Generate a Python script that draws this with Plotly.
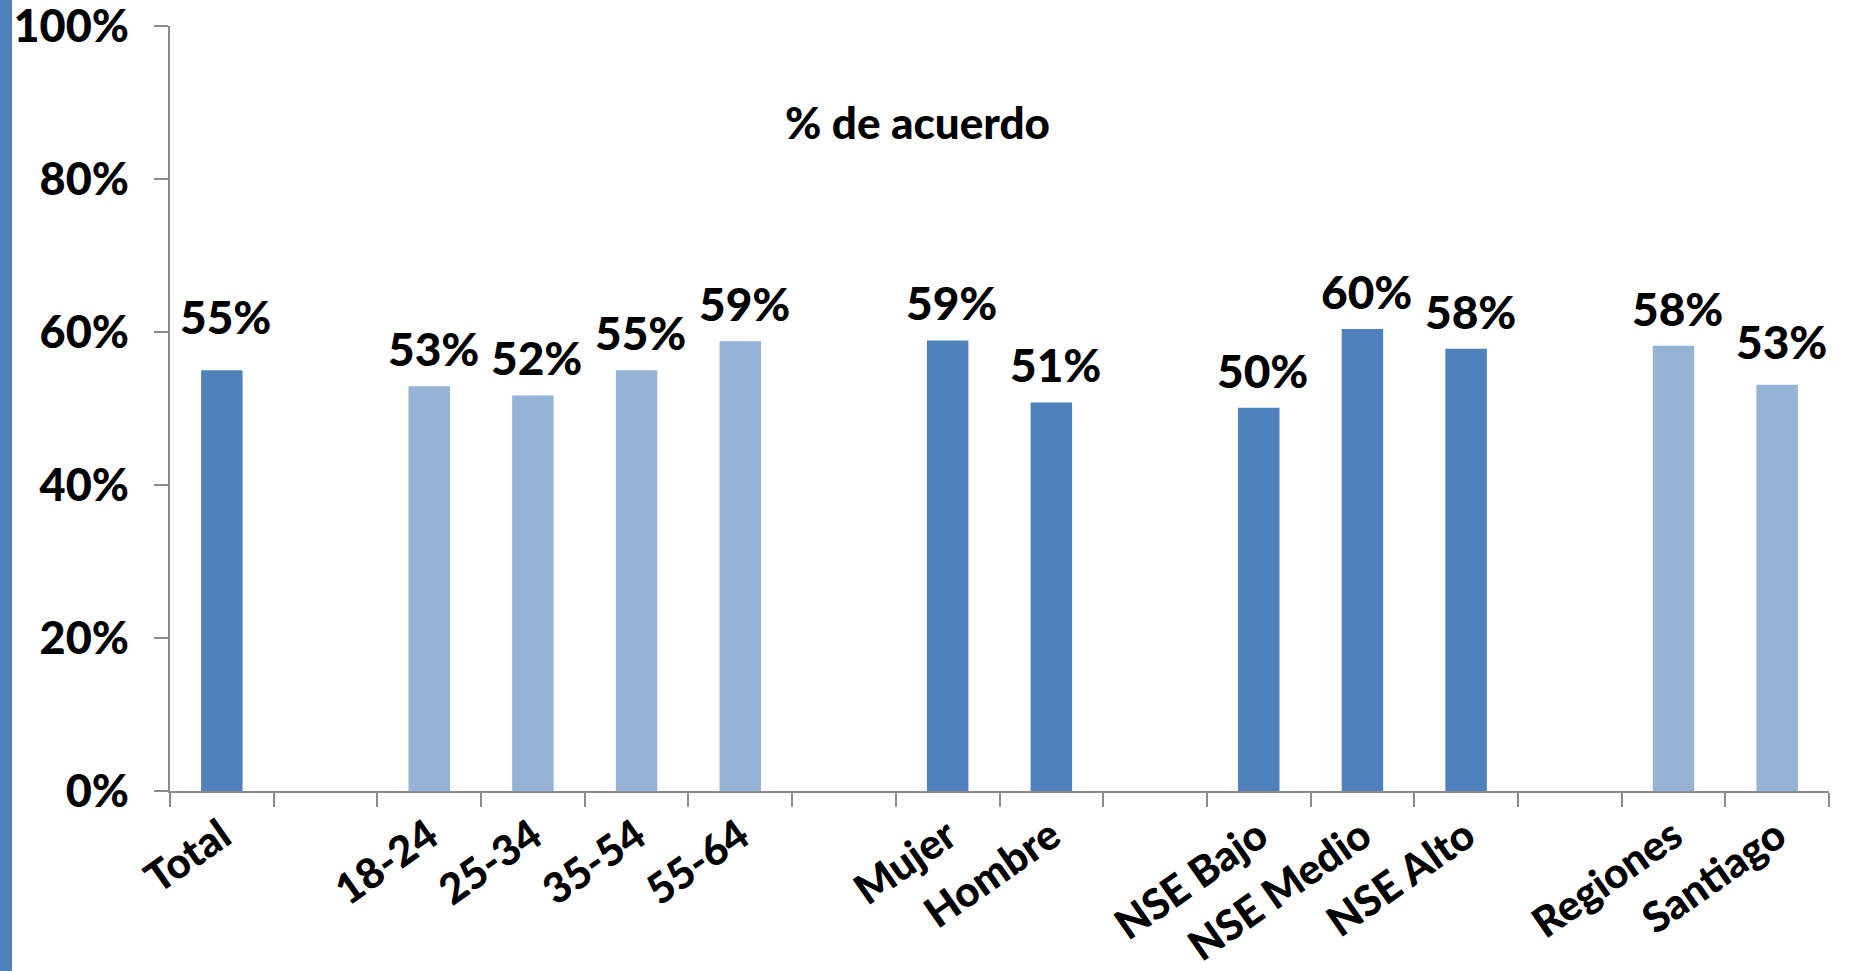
import plotly.graph_objects as go

# ---- data ----
categories = ["Total", " ", "18-24", "25-34", "35-54", "55-64", "  ",
              "Mujer", "Hombre", "   ", "NSE Bajo", "NSE Medio", "NSE Alto",
              "    ", "Regiones", "Santiago"]
values = [55.0, None, 52.9, 51.7, 55.0, 58.8, None,
          58.9, 50.8, None, 50.1, 60.4, 57.8,
          None, 58.2, 53.1]
labels = ["55%", "", "53%", "52%", "55%", "59%", "",
          "59%", "51%", "", "50%", "60%", "58%",
          "", "58%", "53%"]
groups = ["dark", None, "light", "light", "light", "light", None,
          "dark", "dark", None, "dark", "dark", "dark",
          None, "light", "light"]
title_text = "% de acuerdo"
y_ticks = [0, 20, 40, 60, 80, 100]
y_ticktext = ["0%", "20%", "40%", "60%", "80%", "100%"]

DARK = "#4F81BD"
LIGHT = "#95B3D7"
FONT = "Lato"
W = 900

colors = [DARK if g == "dark" else LIGHT for g in groups]

# plot area spans x 170..1829, y 26..791 of the 1854x971 page
ML, MT = 170, 26
PW, PH = 1659, 765

fig = go.Figure()
fig.add_trace(go.Bar(
    x=categories, y=values, marker=dict(color=colors, line=dict(width=0)),
    hoverinfo="skip", showlegend=False,
))

extra_shift = {"Total": 16, "Santiago": 6}
for c, v, t in zip(categories, values, labels):
    if v is None:
        continue
    fig.add_annotation(
        x=c, y=v, text=t, showarrow=False, yanchor="bottom", xanchor="center",
        xshift=4, yshift=8 + extra_shift.get(c, 0),
        font=dict(family=FONT, size=46, color="black", weight=W),
    )

fig.add_annotation(
    xref="paper", yref="paper", x=(917 - ML) / PW, y=(791 - 122) / PH,
    text=title_text, showarrow=False, xanchor="center", yanchor="middle",
    font=dict(family=FONT, size=44, color="black", weight=W),
)

# left decorative stripe (page x 0..12)
fig.add_shape(type="rect", xref="paper", yref="paper",
              x0=-ML / PW, x1=-(ML - 12) / PW, y0=-(971 - MT - PH) / PH, y1=(PH + MT) / PH,
              fillcolor=DARK, line=dict(width=0), layer="below")

fig.update_layout(
    width=1854, height=971,
    margin=dict(l=ML, r=1854 - ML - PW, t=MT, b=971 - MT - PH),
    plot_bgcolor="white", paper_bgcolor="white",
    bargap=0.6,
    font=dict(family=FONT, color="black"),
)
fig.update_xaxes(
    type="category", categoryorder="array", categoryarray=categories,
    tickson="boundaries", ticks="outside", ticklen=14, tickcolor="#8C8C8C",
    tickwidth=2, showline=True, linecolor="#8C8C8C", linewidth=2,
    showgrid=False, tickangle=-35, ticklabelstandoff=2, automargin=False,
    ticklabeloverflow="allow",
    tickfont=dict(family=FONT, size=42, color="black", weight=W),
)
fig.update_yaxes(
    range=[0, 100], tickvals=y_ticks, ticktext=y_ticktext,
    ticks="outside", ticklen=14, tickcolor="#8C8C8C", tickwidth=2,
    showline=True, linecolor="#8C8C8C", linewidth=2, showgrid=False,
    zeroline=False, ticklabelstandoff=16, automargin=False,
    ticklabeloverflow="allow",
    tickfont=dict(family=FONT, size=45, color="black", weight=W),
)

fig.write_html("out.html", config={"displayModeBar": False},
               post_script="document.body.style.margin='0px';document.body.style.padding='0px';")
